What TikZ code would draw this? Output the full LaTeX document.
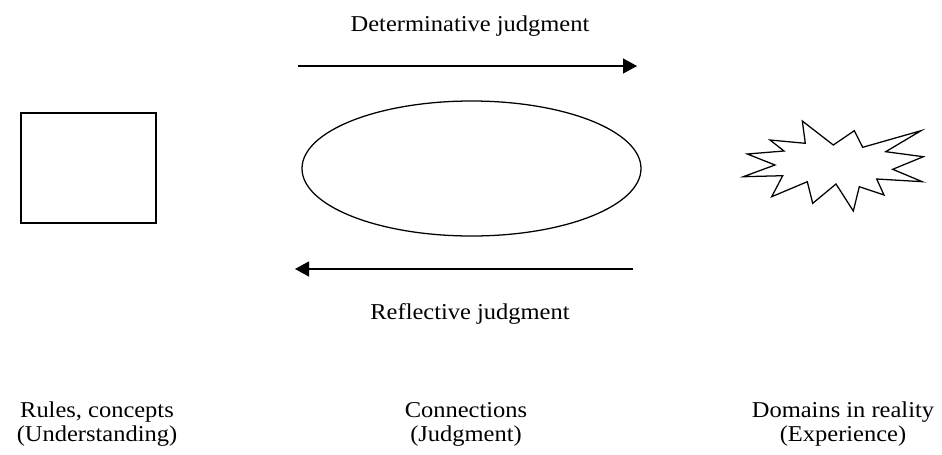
\documentclass[tikz,border=0pt]{standalone}
\usepackage{fontspec}
\setmainfont{Liberation Serif}[FakeStretch=1.08]
\usetikzlibrary{shapes.geometric,arrows.meta}

\tikzset{
  outline/.style={draw=black, line width=0.95pt, fill=white},
  flow/.style={draw=black, line width=0.95pt, -{Triangle[length=10.5pt,width=11.25pt]}},
  lbl/.style={font=\fontsize{17}{17.5}\selectfont, inner sep=0pt, align=center, anchor=base},
}

\begin{document}
\begin{tikzpicture}[x=0.75pt, y=-0.75pt]
  \useasboundingbox (0,0) rectangle (942,454);

  % understanding: rules and concepts
  \node[outline, rectangle, minimum width=101.25pt, minimum height=82.5pt, inner sep=0pt]
    (box) at (88.5,168) {};

  % judgment: connections
  \node[outline, ellipse, minimum width=254.25pt, minimum height=101.25pt, inner sep=0pt]
    (oval) at (471.5,168.5) {};

  % experience: domains in reality
  \draw[outline, line join=miter] (802.3,121) -- (833.3,145) -- (854.3,130.7) -- (862.7,147.3)
    -- (921,130.7) -- (885.7,151.7) -- (923.3,156.7) -- (892.7,169.3)
    -- (922.3,181.7) -- (876.7,179) -- (884,195) -- (859.3,186.7)
    -- (853.3,211) -- (836,184) -- (812.7,203.3) -- (807.3,181.7)
    -- (771.7,196.7) -- (782.7,175.7) -- (743.3,176.7) -- (775,165)
    -- (747.3,154) -- (784,151) -- (770,140) -- (805.3,143.3) -- cycle;

  % arrows between the two kinds of judgment
  \coordinate (dstart) at (298,66);
  \coordinate (dend) at (637,66);
  \coordinate (rstart) at (633,269);
  \coordinate (rend) at (295,269);
  \draw[flow] (dstart) -- (dend);
  \draw[flow] (rstart) -- (rend);

  \node[lbl] (dlabel) at (470,31) {Determinative judgment};
  \node[lbl] (rlabel) at (470,319) {Reflective judgment};

  % captions (anchored on the baseline of their second line)
  \node[lbl] (rules) at (97,441) {Rules, concepts\\(Understanding)};
  \node[lbl] (conn) at (466,441) {Connections\\(Judgment)};
  \node[lbl] (dom) at (843,441) {Domains in reality\\(Experience)};
\end{tikzpicture}
\end{document}
